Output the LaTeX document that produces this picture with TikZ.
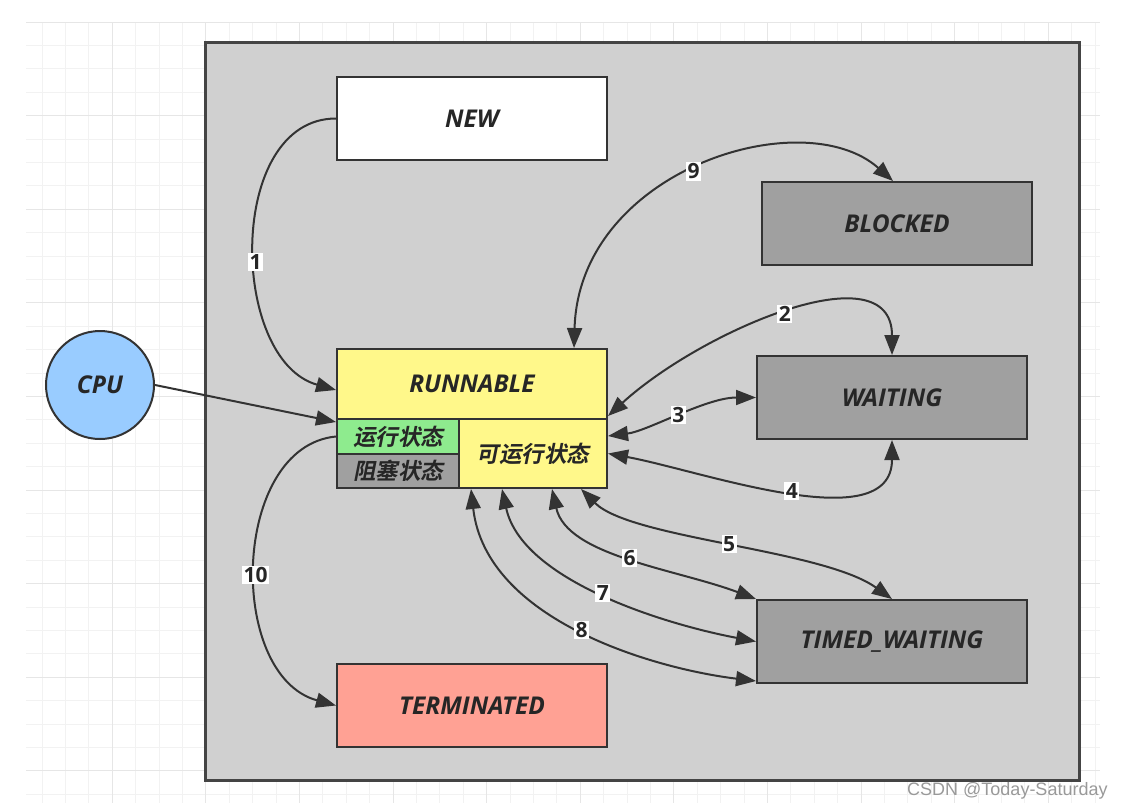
\documentclass[tikz,border=0pt]{standalone}
\usepackage{fontspec}
\setmainfont{Open Sans}
\newfontfamily\cjk{Noto Sans CJK SC Bold}[FakeSlant=0.2]
\newfontfamily\wmfont{Liberation Sans}
\usetikzlibrary{arrows.meta,shapes}
\definecolor{txt}{HTML}{262626}
\definecolor{edgegray}{HTML}{333333}
\definecolor{framegray}{HTML}{444444}
\definecolor{boxgray}{HTML}{D0D0D0}
\definecolor{stategray}{HTML}{A0A0A0}
\definecolor{runyellow}{HTML}{FFF88A}
\definecolor{rungreen}{HTML}{8EEB8E}
\definecolor{termred}{HTML}{FFA194}
\definecolor{cpublue}{HTML}{99CCFF}
\definecolor{gridminor}{HTML}{F2F2F2}
\definecolor{gridmajor}{HTML}{E6E6E6}
\definecolor{wmgray}{HTML}{999999}
\tikzstyle{state}=[rectangle,draw=edgegray,line width=2pt,minimum width=270pt,minimum height=83pt,inner sep=0pt,text=txt,font=\fontsize{24.5}{28}\selectfont\bfseries\itshape]
\tikzstyle{cell}=[rectangle,draw=edgegray,line width=2pt,inner sep=0pt,text=txt,font=\fontsize{22.5}{26}\selectfont\cjk]
\tikzstyle{transition}=[draw=edgegray,line width=2pt,-{Triangle[length=20pt,width=15pt]}]
\tikzstyle{bitransition}=[draw=edgegray,line width=2pt,{Triangle[length=20pt,width=15pt]}-{Triangle[length=20pt,width=15pt]}]
\tikzstyle{num}=[fill=white,inner sep=1.5pt,text=txt,font=\fontsize{21}{24}\selectfont\bfseries]
\begin{document}
\begin{tikzpicture}[x=1pt,y=-1pt]
    \useasboundingbox (0,0) rectangle (1127,807);

    % background grid
    \foreach \gx in {42,65.4,...,1100}
        \draw[gridminor,line width=1pt] (\gx,22) -- (\gx,803);
    \foreach \gy in {22,45.4,...,803}
        \draw[gridminor,line width=1pt] (26,\gy) -- (1100,\gy);
    \foreach \gx in {112.2,205.8,...,1100}
        \draw[gridmajor,line width=1pt] (\gx,22) -- (\gx,803);
    \foreach \gy in {22,115.6,...,803}
        \draw[gridmajor,line width=1pt] (26,\gy) -- (1100,\gy);

    \node[rectangle,draw=framegray,fill=boxgray,line width=2.5pt,minimum width=874pt,minimum height=738pt,anchor=north west] (frame) at (204,41) {};

    % states
    \foreach \pos/\name/\txt/\col in {{(472,118.5)/new/NEW/white}, {(897,223.5)/blocked/BLOCKED/stategray},
            {(892,397.5)/waiting/WAITING/stategray}, {(892,641.5)/timed/TIMED\_WAITING/stategray},
            {(472,705.5)/term/TERMINATED/termred}}
        \node[state,fill=\col] (\name) at \pos {\txt};

    \node[cell,fill=runyellow,minimum width=270pt,minimum height=70pt,font=\fontsize{24.5}{28}\selectfont\bfseries\itshape] (runnable) at (472,384) {RUNNABLE};
    \node[cell,fill=rungreen,minimum width=122pt,minimum height=35pt] (run) at (398,436.5) {运行状态};
    \node[cell,fill=stategray,minimum width=122pt,minimum height=34pt] (blk) at (398,471) {阻塞状态};
    \node[cell,fill=runyellow,minimum width=148pt,minimum height=69pt] (ready) at (533,453.5) {可运行状态};

    \node[circle,draw=edgegray,fill=cpublue,line width=2pt,minimum size=108pt,inner sep=0pt,text=txt,font=\fontsize{24.5}{28}\selectfont\bfseries\itshape] (cpu) at (100,385) {CPU};

    % transitions
    \draw[transition] (cpu.east) -- ([yshift=-4pt]run.north west);
    \draw[transition] (new.west) .. controls +(-110,0) and +(-107,-30) .. node[num,pos=0.55] {1} ([yshift=-6pt]runnable.west);
    \draw[transition] (run.west) .. controls +(-105,10) and +(-110,-30) .. node[num,pos=0.53] {10} (term.west);

    \draw[bitransition] ([xshift=-34pt]runnable.north east) .. controls +(5,-178) and +(-90,-80) .. node[num,pos=0.48] {9} ([xshift=-4pt]blocked.north);
    \draw[bitransition] ([yshift=4pt]runnable.south east) .. controls +(93,-85) and +(0,-106) .. node[num] {2} (waiting.north);
    \draw[bitransition] ([yshift=-18pt]ready.north east) .. controls +(40,-5) and +(-50,0) .. node[num] {3} (waiting.west);
    \draw[bitransition] (ready.east) .. controls +(93,17) and +(0,100) .. node[num,pos=0.52] {4} (waiting.south);

    \draw[bitransition] ([xshift=-27pt]ready.south east) .. controls +(50,50) and +(-70,-50) .. node[num] {5} (timed.north);
    \draw[bitransition] ([xshift=-56pt]ready.south east) .. controls +(15,67) and +(-80,-30) .. node[num] {6} (timed.north west);
    \draw[bitransition] ([xshift=44pt]ready.south west) .. controls +(20,92) and +(-90,-17) .. node[num] {7} (timed.west);
    \draw[bitransition] ([xshift=13pt]ready.south west) .. controls +(15,132) and +(-100,-12) .. node[num] {8} ([yshift=3pt]timed.south west);

    \node[anchor=base west,text=wmgray,inner sep=0pt,font=\wmfont\fontsize{18}{20}\selectfont] (mark) at (907,795) {CSDN @Today-Saturday};
\end{tikzpicture}
\end{document}
